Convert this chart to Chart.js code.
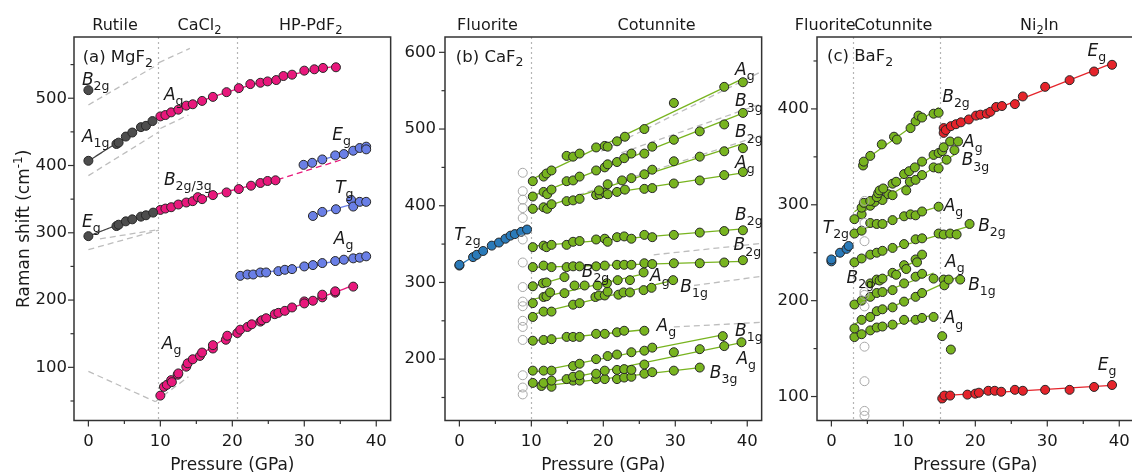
<!DOCTYPE html>
<html><head><meta charset="utf-8">
<script src="https://cdn.jsdelivr.net/npm/chart.js@4.4.1/dist/chart.umd.min.js"></script>
<style>
html,body{margin:0;padding:0;background:#fff;overflow:hidden;width:1132px;height:474px;position:relative;}
canvas{position:absolute;top:0;}
</style></head><body>
<canvas id="ca" width="398" height="474" style="left:0px"></canvas>
<canvas id="cb" width="371" height="474" style="left:398px"></canvas>
<canvas id="cc" width="372" height="474" style="left:769px"></canvas>
<script>
// ================= DATA =================
const xTicks = [0, 10, 20, 30, 40];
const aYTicks = [100, 200, 300, 400, 500];
const bYTicks = [200, 300, 400, 500, 600];
const cYTicks = [100, 200, 300, 400];

// ---- (a) MgF2 ----
const aBounds = [9.7, 20.6];
const aB2gP = [0], aB2gV = [512];
const aA1gP = [0, 3.9, 4.2, 5.2, 6.1, 7.3, 8.0, 8.9];
const aA1gV = [407, 432, 434, 443, 449, 457, 459, 466];
const aEgP = [0, 3.9, 4.2, 5.2, 6.1, 7.3, 8.0, 9.0];
const aEgV = [295, 310, 312, 317, 320, 324, 326, 330];
const aAgHiP = [10.0, 10.7, 11.5, 12.5, 13.6, 14.5, 15.8, 17.3, 19.2, 20.9, 22.5, 23.9, 24.9, 26.1, 27.1, 28.3, 30.0, 31.4, 32.6, 34.4];
const aAgHiV = [473, 475, 479, 483, 489, 491, 496, 502, 509, 515, 521, 523, 525, 527, 533, 535, 541, 543, 545, 546];
const aB23P = [10.0, 10.7, 11.5, 12.5, 13.6, 14.5, 15.2, 15.8, 17.3, 19.2, 20.9, 22.6, 23.9, 24.9, 26.0];
const aB23V = [334, 336, 338, 342, 345, 347, 353, 350, 356, 360, 365, 370, 374, 377, 378];
const aB23ExtP = [26.3, 35.3], aB23ExtV = [379, 409];
const aEgHP = [29.9, 31.1, 32.5, 34.3, 35.5, 36.8, 37.7, 38.6, 38.6];
const aEgHV = [401, 404, 409, 415, 417, 422, 426, 428, 424];
const aTgP = [31.2, 32.5, 34.4, 36.5, 36.8, 37.7, 38.6];
const aTgV = [325, 331, 335, 349, 339, 346, 346];
const aAgHP = [21.1, 22.1, 22.9, 23.9, 24.7, 26.4, 27.3, 28.3, 30.0, 31.2, 32.5, 34.3, 35.5, 36.8, 37.7, 38.6];
const aAgHV = [236, 238, 238, 241, 241, 243, 245, 246, 250, 252, 255, 258, 260, 262, 263, 265];
const aSoftP = [10.0, 10.5, 10.9, 11.5, 11.6, 12.4, 12.5, 13.6, 13.8, 14.5, 15.5, 15.8, 17.3, 17.3, 19.1, 19.3, 20.7, 21.1, 22.1, 22.7, 23.9, 24.1, 24.7, 25.9, 26.4, 27.3, 28.3, 30.0, 30.0, 31.2, 32.5, 32.5, 34.3, 34.3, 36.8];
const aSoftV = [58, 71, 74, 81, 78, 89, 91, 101, 106, 112, 117, 122, 128, 133, 141, 147, 151, 156, 160, 164, 168, 170, 173, 179, 181, 184, 189, 198, 195, 199, 204, 208, 211, 213, 220];
const aDashP = [[0, 9.8], [9.8, 14.1], [0, 9.8], [10, 13.9], [0, 9.8], [1.6, 9.3], [10, 13.9], [0, 9.3], [9.3, 13.9]];
const aDashV = [[490, 551], [553, 574], [385, 450], [455, 475], [275, 304], [291, 304], [339, 351], [94, 49], [49, 86]];

// ---- (b) CaF2 ----
const bBounds = [9.9];
const bT2gP = [0, 0, 1.9, 2.4, 3.3, 4.5, 5.5, 6.4, 7.1, 7.7, 8.6, 9.4];
const bT2gV = [322, 323, 333, 336, 341, 348, 352, 357, 361, 363, 366, 369];
const bOpenP = [8.8, 8.8, 8.8, 8.8, 8.8, 8.8, 8.8, 8.8, 8.8, 8.8, 8.8, 8.8, 8.8, 8.8, 8.8, 8.8];
const bOpenV = [443, 419, 408, 397, 384, 356, 326, 294, 275, 269, 250, 242, 225, 179, 163, 154];
const bG1P = [10.2, 11.7, 12.1, 12.8, 14.9, 15.8, 16.7, 19.0, 20.2, 20.6, 21.9, 23.0, 25.7, 29.8, 36.8, 39.4];
const bG1V = [432, 438, 442, 446, 465, 464, 468, 476, 478, 477, 484, 490, 500, 534, 555, 561];
const bG2P = [10.2, 11.7, 12.2, 12.8, 14.9, 15.8, 16.7, 19.0, 20.2, 20.6, 21.9, 22.9, 23.9, 25.7, 26.8, 29.8, 33.4, 36.8, 39.4];
const bG2V = [412, 418, 415, 421, 432, 433, 438, 446, 450, 454, 457, 462, 468, 468, 477, 486, 497, 506, 521];
const bG3P = [10.2, 11.7, 12.2, 12.8, 14.9, 15.8, 16.7, 19.4, 20.6, 22.6, 23.9, 25.7, 26.8, 29.8, 33.4, 36.8, 39.4];
const bG3V = [396, 398, 396, 402, 406, 407, 409, 420, 428, 433, 436, 441, 447, 458, 464, 471, 475];
const bG4P = [19.0, 19.5, 20.2, 20.6, 21.9, 23.0, 25.7, 26.8, 29.8, 33.4, 36.8, 39.4];
const bG4V = [414, 415, 417, 415, 418, 421, 422, 423, 429, 433, 440, 444];
const bG5P = [10.2, 11.7, 12.1, 12.8, 14.9, 15.8, 16.7, 19.0, 20.2, 20.6, 21.9, 22.9, 23.9, 25.7, 26.8, 29.8, 33.4, 36.8, 39.4];
const bG5V = [346, 348, 346, 349, 349, 353, 354, 356, 357, 353, 359, 360, 357, 362, 359, 362, 365, 367, 368];
const bG6P = [10.2, 11.7, 12.8, 14.9, 15.8, 16.7, 19.0, 20.2, 21.9, 22.9, 23.9, 25.7, 26.8, 29.8, 33.4, 36.8, 39.4];
const bG6V = [320, 322, 320, 320, 321, 321, 321, 322, 323, 323, 323, 325, 324, 325, 325, 326, 329];
const bG7P = [10.2, 11.6, 12.1, 14.6];
const bG7V = [295, 299, 300, 307];
const bG8P = [10.2, 11.7, 12.1, 12.6, 14.6, 16.0, 17.4, 19.2, 20.5, 22.0, 23.7, 25.6];
const bG8V = [273, 281, 282, 287, 286, 296, 296, 296, 299, 303, 303, 313];
const bG10P = [10.2, 11.7, 12.8, 15.8, 16.7, 18.9, 19.4, 20.2, 20.6, 22.1, 22.8, 23.7, 25.6, 26.7, 29.7];
const bG10V = [255, 262, 262, 271, 273, 281, 283, 283, 288, 284, 287, 287, 290, 293, 303];
const bG11P = [10.2, 11.7, 12.8, 14.9, 15.8, 16.7, 19.0, 20.2, 21.9, 22.9, 25.7];
const bG11V = [224, 225, 226, 229, 229, 229, 233, 233, 235, 237, 237];
const bG12P = [10.2, 11.7, 12.8, 15.8, 16.7, 19.0, 20.6, 21.9, 23.9, 25.7, 26.8, 36.6];
const bG12V = [185, 185, 185, 191, 194, 200, 204, 206, 209, 211, 215, 230];
const bG13P = [10.2, 11.7, 12.8, 14.9, 15.8, 16.7, 19.0, 20.2, 21.9, 22.9, 23.9, 25.7, 29.8, 33.4, 36.8, 39.2];
const bG13V = [169, 169, 172, 174, 177, 179, 181, 185, 186, 187, 186, 193, 209, 213, 217, 222];
const bG14P = [11.4, 12.8, 15.8, 16.7, 19.0, 20.2, 21.9, 22.9, 23.9, 25.7, 26.8, 29.8, 33.4];
const bG14V = [165, 164, 172, 172, 174, 174, 174, 176, 177, 181, 183, 185, 189];
const bDashP = [[19.7, 42], [22.5, 42], [16.5, 42], [27, 42], [32.6, 42], [29.8, 42]];
const bDashV = [[471, 575], [469, 533], [414, 492], [336, 351], [296, 308], [242, 248]];

// ---- (c) BaF2 ----
const cBounds = [2.95, 15.1];
const cT2gP = [0, 0, 1.2, 2.1, 2.4];
const cT2gV = [241, 243, 250, 254, 257];
const cOpenP = [4.6, 4.6, 4.6, 4.6, 4.6, 4.6, 4.6, 4.6, 4.6, 4.6];
const cOpenV = [304, 281, 262, 209, 206, 194, 152, 116, 85, 80];
const cEgHiP = [15.6, 15.6, 15.9, 16.6, 17.3, 18.0, 19.1, 20.1, 20.7, 21.6, 22.1, 22.9, 23.7, 25.5, 26.6, 29.7, 33.1, 36.5, 39.0];
const cEgHiV = [380, 375, 378, 382, 384, 386, 389, 393, 394, 395, 397, 402, 403, 405, 413, 423, 430, 439, 446];
const cEgLoP = [15.4, 15.7, 16.5, 18.9, 20.0, 20.5, 21.8, 22.7, 23.6, 25.5, 26.6, 29.7, 33.1, 36.5, 39.0];
const cEgLoV = [98, 101, 101, 102, 103, 104, 106, 106, 105, 107, 106, 107, 107, 110, 112];
const cG1P = [4.4, 4.5, 5.4, 7.0, 8.7, 9.1, 11.0, 11.7, 12.1, 12.6, 14.2, 14.9];
const cG1V = [341, 345, 351, 363, 371, 368, 380, 387, 393, 391, 395, 396];
const cG2P = [3.2, 4.2, 4.5, 5.4, 6.3, 6.5, 6.7, 7.2, 8.5, 9.0, 10.1, 10.8, 11.6, 12.6, 14.2, 14.9, 15.4, 15.6, 16.5, 17.6];
const cG2V = [285, 297, 302, 304, 308, 312, 315, 317, 322, 324, 332, 335, 339, 345, 352, 354, 356, 360, 366, 366];
const cG3P = [4.2, 5.4, 6.0, 7.1, 7.9, 8.5, 10.4, 10.9, 11.7, 12.6, 14.2, 14.9, 16.0, 17.1];
const cG3V = [290, 299, 303, 305, 311, 310, 315, 324, 326, 331, 339, 338, 347, 357];
const cG4P = [3.2, 4.2, 5.4, 6.3, 7.1, 8.5, 10.1, 11.0, 11.7, 12.6, 14.9];
const cG4V = [270, 273, 281, 280, 280, 284, 288, 290, 289, 293, 298];
const cG5P = [3.2, 4.2, 5.4, 6.3, 7.1, 8.5, 10.1, 11.7, 12.6, 14.9, 15.6, 16.5, 17.4, 19.2];
const cG5V = [240, 244, 248, 250, 252, 255, 259, 264, 265, 270, 269, 270, 269, 280];
const cG6P = [5.4, 6.3, 6.7, 7.1, 8.5, 9.0, 10.1, 10.4, 11.7, 11.9, 12.6];
const cG6V = [218, 222, 221, 223, 229, 227, 237, 233, 243, 240, 248];
const cG7P = [3.2, 4.2, 5.4, 6.3, 7.1, 8.5, 10.1, 11.7, 12.6, 14.2];
const cG7V = [196, 200, 204, 208, 209, 211, 218, 225, 228, 223];
const cG8P = [3.2, 4.2, 5.4, 6.3, 7.1, 8.5, 10.1, 11.7, 12.6, 15.6, 15.7, 16.3, 17.9];
const cG8V = [171, 180, 183, 189, 191, 193, 199, 204, 208, 222, 216, 222, 222];
const cG9P = [3.2, 4.2, 5.4, 6.3, 7.1, 8.5, 10.1, 11.7, 12.6, 14.2];
const cG9V = [162, 165, 169, 172, 173, 175, 180, 180, 182, 183];
const cGxP = [15.4, 16.6], cGxV = [163, 149];

// ================= STYLE / HELPERS =================
const FONT = '"DejaVu Sans", "Liberation Sans", sans-serif';
const TXT = '#1a1a1a';
const C = {dark:'#4d4d4d', pink:'#e8187c', peri:'#6a7fe6', green:'#78b41f', blue:'#2a7ab9', red:'#e5242b', open:'#a8a8a8', dash:'#bdbdbd'};
const PR = 4.5;

function pts(P, V) { return P.map((x, i) => ({x, y: V[i]})); }
function polyfit(P, V, deg) {
  const n = deg + 1, A = [];
  for (let i = 0; i < n; i++) A.push(new Array(n + 1).fill(0));
  for (let k = 0; k < P.length; k++)
    for (let i = 0; i < n; i++) {
      for (let j = 0; j < n; j++) A[i][j] += Math.pow(P[k], i + j);
      A[i][n] += V[k] * Math.pow(P[k], i);
    }
  for (let i = 0; i < n; i++) {
    let m = i; for (let r = i + 1; r < n; r++) if (Math.abs(A[r][i]) > Math.abs(A[m][i])) m = r;
    [A[i], A[m]] = [A[m], A[i]];
    for (let r = 0; r < n; r++) if (r !== i) { const f = A[r][i] / A[i][i]; for (let c = i; c <= n; c++) A[r][c] -= f * A[i][c]; }
  }
  return A.map((row, i) => row[n] / row[i]);
}
function fitPts(P, V, deg) {
  const c = polyfit(P, V, deg), lo = Math.min(...P), hi = Math.max(...P), N = deg === 1 ? 1 : 40, out = [];
  for (let i = 0; i <= N; i++) { const x = lo + (hi - lo) * i / N; out.push({x, y: c.reduce((s, ci, j) => s + ci * Math.pow(x, j), 0)}); }
  return out;
}
function scat(P, V, color, open) {
  return {data: pts(P, V), backgroundColor: open ? 'rgba(255,255,255,0)' : color, borderColor: open ? C.open : '#262626',
          borderWidth: 1, pointRadius: PR, showLine: false, order: 1};
}
function fitDs(P, V, deg, color) {
  return {data: fitPts(P, V, deg), borderColor: color, borderWidth: 1.3, pointRadius: 0, showLine: true, fill: false, order: 2};
}
function segDs(P, V, color, dash, w) {
  return {data: pts(P, V), borderColor: color, borderWidth: w || 1.3, borderDash: dash, pointRadius: 0, showLine: true, fill: false, order: 3};
}
function dashSet(PP, VV) { return PP.map((p, i) => segDs(p, VV[i], C.dash, [6, 4], 1.3)); }

function drawRich(ctx, x, y, segs, size, sub, align) {
  const fonts = segs.map(([t, k]) => (k === 's' || k === 'p') ? `${sub}px ${FONT}` : (k === 'i' ? `italic ${size}px ${FONT}` : `${size}px ${FONT}`));
  const ws = segs.map(([t], i) => { ctx.font = fonts[i]; return ctx.measureText(t).width; });
  const tot = ws.reduce((a, b) => a + b, 0);
  let cx = align === 'center' ? x - tot / 2 : x;
  segs.forEach(([t, k], i) => {
    ctx.font = fonts[i];
    const dy = k === 's' ? size * 0.3 : (k === 'p' ? -size * 0.4 : 0);
    ctx.fillText(t, cx, y + dy); cx += ws[i];
  });
}
const M = (a, s) => [[a, 'i'], [s, 's']];

function deco(cfg) {
  return {
    id: 'deco',
    beforeDatasetsDraw(chart) {
      const {ctx, chartArea: a, scales: {x}} = chart;
      ctx.save(); ctx.strokeStyle = '#b5b5b5'; ctx.lineWidth = 1.2; ctx.setLineDash([2, 3]);
      cfg.bounds.forEach(b => { const px = Math.round(x.getPixelForValue(b)) + 0.5; ctx.beginPath(); ctx.moveTo(px, a.top); ctx.lineTo(px, a.bottom); ctx.stroke(); });
      ctx.restore();
    },
    afterDraw(chart) {
      const {ctx, chartArea: a, scales: {x, y}} = chart;
      ctx.save();
      ctx.strokeStyle = '#333'; ctx.lineWidth = 1.5; ctx.setLineDash([]);
      ctx.strokeRect(a.left, a.top, a.right - a.left, a.bottom - a.top);
      ctx.lineWidth = 1.2;
      for (let v = 0; v <= x.max; v += 5) {
        const px = x.getPixelForValue(v), L = v % 10 === 0 ? 6 : 3.5;
        ctx.beginPath(); ctx.moveTo(px, a.bottom); ctx.lineTo(px, a.bottom + L); ctx.stroke();
      }
      for (let v = Math.ceil(y.min / 50) * 50; v <= y.max; v += 50) {
        const py = y.getPixelForValue(v), L = v % 100 === 0 ? 6 : 3.5;
        ctx.beginPath(); ctx.moveTo(a.left, py); ctx.lineTo(a.left - L, py); ctx.stroke();
      }
      ctx.fillStyle = TXT; ctx.textBaseline = 'alphabetic';
      cfg.labels.forEach(l => drawRich(ctx, x.getPixelForValue(l.x), y.getPixelForValue(l.y), l.s, l.size || 17, l.sub || 12.5, 'left'));
      cfg.phases.forEach(p => drawRich(ctx, x.getPixelForValue(p.x), 29.5, p.s, 16, 11.5, 'center'));
      drawRich(ctx, (a.left + a.right) / 2, 470, [['Pressure (GPa)', 'n']], 17, 12, 'center');
      if (cfg.ytitle) {
        ctx.translate(29, (a.top + a.bottom) / 2); ctx.rotate(-Math.PI / 2);
        drawRich(ctx, 0, 0, [['Raman shift (cm', 'n'], ['-1', 'p'], [')', 'n']], 17, 12, 'center');
      }
      ctx.restore();
    }
  };
}

function makeChart(id, cfg) {
  return new Chart(document.getElementById(id), {
    type: 'scatter',
    data: {datasets: cfg.datasets},
    options: {
      responsive: false, animation: false, devicePixelRatio: 1,
      layout: {padding: {top: 37, right: 2, left: 0, bottom: 0}},
      plugins: {legend: {display: false}, tooltip: {enabled: false}},
      scales: {
        x: {type: 'linear', min: -2, max: 42, border: {display: false}, grid: {display: false, drawTicks: false},
            afterBuildTicks: s => { s.ticks = xTicks.map(v => ({value: v})); },
            afterFit: s => { s.height = 53.5; },
            ticks: {font: {family: FONT, size: 16.5}, color: TXT, padding: 11, maxRotation: 0, autoSkip: false}},
        y: {type: 'linear', min: cfg.ymin, max: cfg.ymax, border: {display: false}, grid: {display: false, drawTicks: false},
            afterBuildTicks: s => { s.ticks = cfg.yTicks.map(v => ({value: v})); },
            afterFit: s => { s.width = cfg.yWidth; },
            ticks: {font: {family: FONT, size: 16.5}, color: TXT, padding: cfg.yPad, autoSkip: false}}
      }
    },
    plugins: [deco(cfg)]
  });
}

// ---------- Panel (a) ----------
makeChart('ca', {
  ymin: 21, ymax: 591, yTicks: aYTicks, yWidth: 74, yPad: 7, bounds: aBounds, ytitle: true,
  datasets: [
    ...dashSet(aDashP, aDashV),
    segDs(aB23ExtP, aB23ExtV, C.pink, [6, 4], 1.3),
    fitDs(aA1gP, aA1gV, 2, '#444'), fitDs(aEgP, aEgV, 2, '#444'),
    fitDs(aAgHiP, aAgHiV, 2, C.pink), fitDs(aB23P, aB23V, 2, C.pink), fitDs(aSoftP, aSoftV, 3, C.pink),
    fitDs(aEgHP, aEgHV, 1, C.peri), fitDs(aTgP, aTgV, 1, C.peri), fitDs(aAgHP, aAgHV, 1, C.peri),
    scat(aB2gP, aB2gV, C.dark), scat(aA1gP, aA1gV, C.dark), scat(aEgP, aEgV, C.dark),
    scat(aAgHiP, aAgHiV, C.pink), scat(aB23P, aB23V, C.pink), scat(aSoftP, aSoftV, C.pink),
    scat(aEgHP, aEgHV, C.peri), scat(aTgP, aTgV, C.peri), scat(aAgHP, aAgHV, C.peri)
  ],
  labels: [
    {x: -0.8, y: 554, s: [['(a) MgF', 'n'], ['2', 's']], size: 16.5},
    {x: -0.9, y: 520, s: M('B', '2g')}, {x: -0.9, y: 435.5, s: M('A', '1g')}, {x: -0.9, y: 309, s: M('E', 'g')},
    {x: 10.5, y: 497.5, s: M('A', 'g')}, {x: 10.5, y: 371, s: M('B', '2g/3g')},
    {x: 33.9, y: 438, s: M('E', 'g')}, {x: 34.3, y: 359, s: M('T', 'g')}, {x: 34.1, y: 284, s: M('A', 'g')},
    {x: 10.2, y: 128, s: M('A', 'g')}
  ],
  phases: [
    {x: 3.7, s: [['Rutile', 'n']]}, {x: 15.45, s: [['CaCl', 'n'], ['2', 's']]}, {x: 30.9, s: [['HP-PdF', 'n'], ['2', 's']]}
  ]
});

// ---------- Panel (b) ----------
const bG = [[bG1P, bG1V], [bG2P, bG2V], [bG3P, bG3V], [bG4P, bG4V], [bG5P, bG5V], [bG6P, bG6V], [bG7P, bG7V], [bG8P, bG8V],
            [bG10P, bG10V], [bG11P, bG11V], [bG12P, bG12V], [bG13P, bG13V], [bG14P, bG14V]];
makeChart('cb', {
  ymin: 120, ymax: 620, yTicks: bYTicks, yWidth: 47, yPad: 9, bounds: bBounds,
  datasets: [
    ...dashSet(bDashP, bDashV),
    fitDs(bT2gP, bT2gV, 2, C.blue),
    ...bG.map(([p, v]) => fitDs(p, v, 1, C.green)),
    scat(bOpenP, bOpenV, null, true),
    scat(bT2gP, bT2gV, C.blue),
    ...bG.map(([p, v]) => scat(p, v, C.green))
  ],
  labels: [
    {x: -0.5, y: 588, s: [['(b) CaF', 'n'], ['2', 's']], size: 16.5},
    {x: 38.3, y: 570, s: M('A', 'g')}, {x: 38.3, y: 529.4, s: M('B', '3g')}, {x: 38.3, y: 489, s: M('B', '2g')},
    {x: 38.3, y: 449.6, s: M('A', 'g')}, {x: 38.3, y: 381.6, s: M('B', '2g')}, {x: -0.7, y: 355.7, s: M('T', '2g')},
    {x: 38.1, y: 341.7, s: M('B', '2g')}, {x: 17, y: 307.5, s: M('B', '2g')}, {x: 26.5, y: 302.2, s: M('A', 'g')},
    {x: 30.7, y: 287.7, s: M('B', '1g')}, {x: 27.4, y: 237.3, s: M('A', 'g')}, {x: 38.3, y: 230.7, s: M('B', '1g')},
    {x: 38.5, y: 193.4, s: M('A', 'g')}, {x: 34.8, y: 175.9, s: M('B', '3g')}
  ],
  phases: [{x: 3.9, s: [['Fluorite', 'n']]}, {x: 27.4, s: [['Cotunnite', 'n']]}]
});

// ---------- Panel (c) ----------
const cG = [[cG1P, cG1V], [cG2P, cG2V], [cG3P, cG3V], [cG4P, cG4V], [cG5P, cG5V], [cG6P, cG6V], [cG7P, cG7V], [cG8P, cG8V], [cG9P, cG9V]];
makeChart('cc', {
  ymin: 75, ymax: 475, yTicks: cYTicks, yWidth: 48, yPad: 8, bounds: cBounds,
  datasets: [
    fitDs(cT2gP, cT2gV, 1, C.blue),
    fitDs(cEgHiP, cEgHiV, 1, C.red), fitDs(cEgLoP, cEgLoV, 1, C.red),
    ...cG.map(([p, v]) => fitDs(p, v, 1, C.green)),
    scat(cOpenP, cOpenV, null, true),
    scat(cT2gP, cT2gV, C.blue),
    ...cG.map(([p, v]) => scat(p, v, C.green)), scat(cGxP, cGxV, C.green),
    scat(cEgHiP, cEgHiV, C.red), scat(cEgLoP, cEgLoV, C.red)
  ],
  labels: [
    {x: -0.6, y: 449.8, s: [['(c) BaF', 'n'], ['2', 's']], size: 16.5},
    {x: 35.6, y: 455, s: M('E', 'g')}, {x: 15.4, y: 407.7, s: M('B', '2g')}, {x: 18.3, y: 360.4, s: M('A', 'g')},
    {x: 18.1, y: 341, s: M('B', '3g')}, {x: 15.6, y: 293.7, s: M('A', 'g')}, {x: 20.4, y: 272.6, s: M('B', '2g')},
    {x: -1.2, y: 270.9, s: M('T', '2g')}, {x: 15.8, y: 235, s: M('A', 'g')}, {x: 19, y: 211.2, s: M('B', '1g')},
    {x: 2.1, y: 218.2, s: M('B', '2g')}, {x: 15.6, y: 176.2, s: M('A', 'g')}, {x: 37, y: 127.3, s: M('E', 'g')}
  ],
  phases: [{x: -0.86, s: [['Fluorite', 'n']]}, {x: 8.6, s: [['Cotunnite', 'n']]}, {x: 28.9, s: [['Ni', 'n'], ['2', 's'], ['In', 'n']]}]
});
</script>
</body></html>
